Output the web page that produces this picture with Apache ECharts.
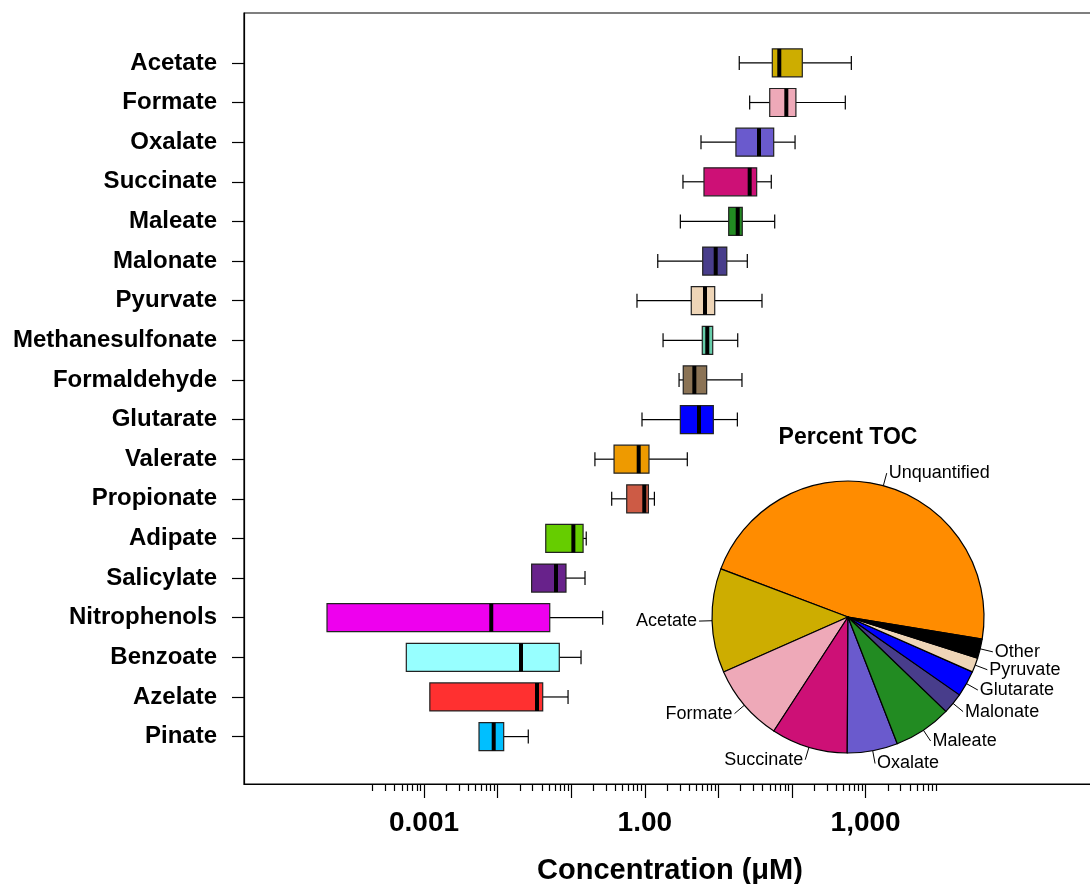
<!DOCTYPE html>
<html>
<head>
<meta charset="utf-8">
<script src="https://cdn.jsdelivr.net/npm/echarts@6/dist/echarts.min.js"></script>
<style>
html,body{margin:0;padding:0;background:#fff;}
#chart{width:1090px;height:884px;}
</style>
</head>
<body>
<div id="chart"></div>
<script>
// ---- Data (concentrations in µM) ----
const categories = ['Acetate','Formate','Oxalate','Succinate','Maleate','Malonate','Pyurvate','Methanesulfonate','Formaldehyde','Glutarate','Valerate','Propionate','Adipate','Salicylate','Nitrophenols','Benzoate','Azelate','Pinate'];
const whiskerLow = [19.2, 26.6, 5.80, 3.30, 3.04, 1.50, 0.783, 1.77, 2.92, 0.916, 0.210, 0.355, 0.0451, 0.0290, 4.81e-5, 5.75e-4, 0.00120, 0.00559];
const quartile1  = [54.0, 49.8, 17.3, 6.37, 13.8, 6.12, 4.28, 6.04, 3.33, 3.04, 0.382, 0.568, 0.0451, 0.0290, 4.81e-5, 5.75e-4, 0.00120, 0.00559];
const medians    = [67.2, 83.7, 35.6, 26.6, 18.3, 9.19, 6.58, 7.06, 4.71, 5.45, 0.826, 0.984, 0.107, 0.0621, 0.00820, 0.0208, 0.0343, 0.00885];
const quartile3  = [138, 113, 56.4, 33.1, 21.1, 13.0, 8.91, 8.37, 6.93, 8.53, 1.14, 1.12, 0.145, 0.0849, 0.0511, 0.0689, 0.0410, 0.0121];
const whiskerHigh= [640, 530, 110, 52.3, 58.2, 24.7, 39.1, 18.3, 20.9, 18.1, 3.78, 1.35, 0.160, 0.154, 0.268, 0.136, 0.0906, 0.0261];

const pieLabels = ['Unquantified','Acetate','Formate','Succinate','Oxalate','Maleate','Malonate','Glutarate','Pyruvate','Other'];
const pieValues = [46.9, 12.4, 9.2, 9.1, 6.0, 6.9, 2.5, 3.1, 1.7, 2.3];

const xTickLabelValues = [0.001, 1, 1000];
const xTickLabelTexts = ['0.001', '1.00', '1,000'];
const majorTickValues = [0.001, 0.01, 0.1, 1, 10, 100, 1000];
const minorTickValues = [];
for (let d = -4; d <= 3; d++) { for (let k = 2; k <= 9; k++) minorTickValues.push(k * Math.pow(10, d)); }

// ---- Styles ----
const boxColors = ['#CDAD00','#EEA9B8','#6A5ACD','#CD1076','#228B22','#483D8B','#EED5B7','#66CDAA','#8B7355','#0000FF','#EE9A00','#CD5B45','#66CD00','#68228B','#EE00EE','#97FFFF','#FF3030','#00BFFF'];
const pieColors = ['#FF8C00','#CDAD00','#EEA9B8','#CD1076','#6A5ACD','#228B22','#483D8B','#0000FF','#EED5B7','#000000'];
const FONT = '"Liberation Sans", Arial, Helvetica, sans-serif';

const lg = v => Math.log10(v);
const boxData = categories.map((c, i) => [i, lg(whiskerLow[i]), lg(quartile1[i]), lg(medians[i]), lg(quartile3[i]), lg(whiskerHigh[i])]);

function renderBox(params, api) {
  const idx = api.value(0);
  const pLo = api.coord([api.value(1), idx]);
  const pQ1 = api.coord([api.value(2), idx]);
  const pMd = api.coord([api.value(3), idx]);
  const pQ3 = api.coord([api.value(4), idx]);
  const pHi = api.coord([api.value(5), idx]);
  const y = pMd[1];
  const hh = 14, cap = 7;
  const ls = { stroke: '#000', lineWidth: 1.2 };
  const ch = [];
  if (pQ1[0] - pLo[0] > 0.5) {
    ch.push({ type: 'line', shape: { x1: pLo[0], y1: y, x2: pQ1[0], y2: y }, style: ls });
    ch.push({ type: 'line', shape: { x1: pLo[0], y1: y - cap, x2: pLo[0], y2: y + cap }, style: ls });
  }
  if (pHi[0] - pQ3[0] > 0.5) {
    ch.push({ type: 'line', shape: { x1: pQ3[0], y1: y, x2: pHi[0], y2: y }, style: ls });
    ch.push({ type: 'line', shape: { x1: pHi[0], y1: y - cap, x2: pHi[0], y2: y + cap }, style: ls });
  }
  ch.push({ type: 'rect', shape: { x: pQ1[0], y: y - hh, width: pQ3[0] - pQ1[0], height: 2 * hh },
            style: { fill: boxColors[params.dataIndex], stroke: '#222', lineWidth: 1.2 } });
  ch.push({ type: 'line', shape: { x1: pMd[0], y1: y - hh, x2: pMd[0], y2: y + hh }, style: { stroke: '#000', lineWidth: 4 } });
  return { type: 'group', children: ch };
}

const chart = echarts.init(document.getElementById('chart'), null, { renderer: 'canvas' });
const XMIN = -5.4457, XMAX = 6.1304;
chart.setOption({
  animation: false,
  backgroundColor: '#fff',
  grid: { left: 244, width: 852, top: 13, bottom: 100, outerBoundsMode: 'none', containLabel: false,
          show: true, borderColor: '#000', borderWidth: 1.2, backgroundColor: 'transparent' },
  xAxis: [
    {
      type: 'value', min: XMIN, max: XMAX, position: 'bottom',
      axisLine: { show: true, onZero: false, lineStyle: { color: '#000', width: 1.2 } },
      axisTick: { show: true, length: 14, customValues: majorTickValues.map(lg), lineStyle: { color: '#000', width: 1.2 } },
      axisLabel: {
        show: true, margin: 25, customValues: xTickLabelValues.map(lg),
        formatter: v => { const i = xTickLabelValues.findIndex(t => Math.abs(lg(t) - v) < 1e-6); return i >= 0 ? xTickLabelTexts[i] : ''; },
        color: '#000', fontSize: 28, fontWeight: 'bold', fontFamily: FONT
      },
      splitLine: { show: false },
      name: 'Concentration (μM)', nameLocation: 'middle', nameGap: 72,
      nameTextStyle: { color: '#000', fontSize: 29, fontWeight: 'bold', fontFamily: FONT }
    },
    {
      type: 'value', min: XMIN, max: XMAX, position: 'bottom',
      axisLine: { show: false, onZero: false },
      axisTick: { show: true, length: 7, customValues: minorTickValues.map(lg), lineStyle: { color: '#000', width: 1.2 } },
      axisLabel: { show: false },
      splitLine: { show: false }
    }
  ],
  yAxis: {
    type: 'value', inverse: true, min: -1.259, max: 18.196,
    axisLine: { show: true, onZero: false, lineStyle: { color: '#000', width: 1.2 } },
    axisTick: { show: true, length: 12, customValues: categories.map((c, i) => i), lineStyle: { color: '#000', width: 1.2 } },
    axisLabel: {
      show: true, margin: 27, customValues: categories.map((c, i) => i),
      formatter: v => categories[Math.round(v)] || '',
      color: '#000', fontSize: 24, fontWeight: 'bold', fontFamily: FONT
    },
    splitLine: { show: false }
  },
  graphic: [
    { type: 'text', x: 848, y: 438, style: { text: 'Percent TOC', fill: '#000', font: 'bold 23px ' + FONT, align: 'center', verticalAlign: 'middle' } }
  ],
  series: [
    {
      type: 'custom', xAxisIndex: 0, yAxisIndex: 0, renderItem: renderBox,
      data: boxData, encode: { x: [1, 2, 3, 4, 5], y: 0 }, clip: false, silent: true
    },
    {
      type: 'pie', center: [848, 617], radius: 136, startAngle: 350.6, clockwise: false,
      avoidLabelOverlap: false, silent: true,
      data: pieLabels.map((n, i) => ({ name: n, value: pieValues[i], itemStyle: { color: pieColors[i] } })),
      itemStyle: { borderColor: '#000', borderWidth: 1.2 },
      label: { show: true, position: 'outside', formatter: '{b}', color: '#000', fontSize: 18, fontFamily: FONT, distanceToLabelLine: 2 },
      labelLine: { show: true, length: 13, length2: 0, lineStyle: { color: '#000', width: 1 } },
      labelLayout: { hideOverlap: false },
      minShowLabelAngle: 0
    }
  ]
});
</script>
</body>
</html>
